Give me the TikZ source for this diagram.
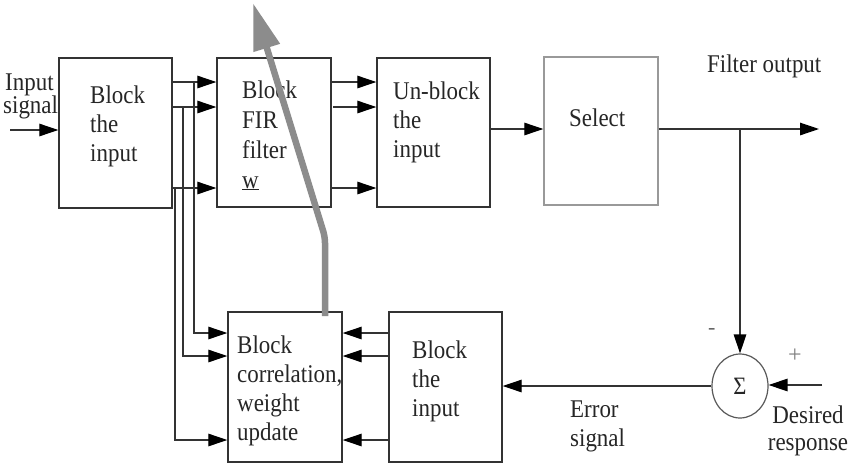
\documentclass[tikz,border=0pt]{standalone}
\usepackage{fontspec}
\setmainfont{Liberation Serif}
\newfontfamily\serifx[FakeStretch=0.9]{Liberation Serif}
\usetikzlibrary{arrows.meta,shapes.geometric}

\newcommand\lines[1]{\begin{tabular}[t]{@{}l@{}}#1\end{tabular}}

\begin{document}
\begin{tikzpicture}[x=1pt,y=-1pt,
  blk/.style={draw=black!80, line width=1.4pt, inner sep=0pt},
  ln/.style={draw=black!80, line width=1.3pt},
  arr/.style={ln, -{Triangle[length=19pt,width=12.5pt,color=black]}},
  lbl/.style={inner sep=0pt, anchor=base west, text=black!85,
    font={\serifx\fontsize{25.5}{29}\selectfont}},
  lblw/.style={lbl, font={\serifx\fontsize{25.5}{30}\selectfont}},
  feedback/.style={draw=black!45, line width=6.5pt, rounded corners=6pt,
    -{Triangle[length=47pt,width=26pt]}}]

\useasboundingbox[fill=white] (0,0) rectangle (851,464);

% processing blocks
\node[blk, minimum width=113pt, minimum height=150pt] (b1) at (115.5,133) {};
\node[blk, minimum width=114pt, minimum height=149pt] (b2) at (274,132.5) {};
\node[blk, minimum width=113pt, minimum height=149pt] (b3) at (433.5,132.5) {};
\node[blk, draw=black!40, minimum width=114pt, minimum height=148pt] (sel) at (601,131) {};
\node[blk, minimum width=114pt, minimum height=150pt] (b5) at (285,387) {};
\node[blk, minimum width=113pt, minimum height=150pt] (b4) at (445.5,387) {};
\node[ellipse, draw=black!65, line width=1.2pt, minimum width=56pt,
  minimum height=64pt, inner sep=0pt, text=black!85,
  font={\serifx\fontsize{25}{27}\selectfont}] (sig) at (740,386) {Σ};

% block texts
\node[lbl] (t1) at (90,103) {\lines{Block\\the\\input}};
\node[lblw] (t2) at (242,98) {\lines{Block\\FIR\\filter\\\underline{w}}};
\node[lbl] (t3) at (393,99) {\lines{Un-block\\the\\input}};
\node[lbl] (t4) at (569,126) {Select};
\node[lbl] (t5) at (237,353) {\lines{Block\\correlation,\\weight\\update}};
\node[lbl] (t6) at (412,358) {\lines{Block\\the\\input}};

% signal labels
\node[lbl] (in1) at (5,90) {Input};
\node[lbl] (in2) at (3,113) {signal};
\node[lbl] (fo) at (707,72) {Filter output};
\node[lbl] (es) at (570,417) {\lines{Error\\signal}};
\node[lbl, anchor=base] (dr1) at (808,423) {Desired};
\node[lbl, anchor=base] (dr2) at (808,450) {response};
\node[lbl, text=black!60, font={\fontsize{22}{24}\selectfont}] (mn) at (708,334) {-};
\node[lbl, text=black!50, font={\fontsize{24}{26}\selectfont}] (pl) at (788,362) {+};

% rows of the block signals
\coordinate (r1) at (0,82);
\coordinate (r2) at (0,107);
\coordinate (r3) at (0,188);
\coordinate (q1) at (0,333);
\coordinate (q2) at (0,356);
\coordinate (q3) at (0,440);
\coordinate (o) at (0,129);

% input
\coordinate (in) at (10,130);
\draw[arr] (in) -- (b1.west |- in);

% block the input -> FIR filter
\draw[arr] (b1.east |- r1) -- (b2.west |- r1);
\draw[arr] (b1.east |- r2) -- (b2.west |- r2);
\draw[arr] (b1.east |- r3) -- (b2.west |- r3);

% taps down to the correlation block
\coordinate (k1) at (194,82);
\coordinate (k2) at (183,107);
\coordinate (k3) at (175,188);
\draw[arr] (k1) |- (b5.west |- q1);
\draw[arr] (k2) |- (b5.west |- q2);
\draw[arr] (k3) |- (b5.west |- q3);

% FIR filter -> un-block
\coordinate (m2) at (333,107);
\draw[arr] (b2.east |- r1) -- (b3.west |- r1);
\draw[arr] (m2) -- (b3.west |- r2);
\draw[arr] (b2.east |- r3) -- (b3.west |- r3);

% un-block -> select -> output
\draw[arr] (b3.east |- o) -- (sel.west |- o);
\coordinate (out) at (819,129);
\coordinate (j) at (740,129);
\draw[arr] (sel.east |- o) -- (out);
\draw[arr] (j) -- (sig.north);

% desired response and error signal
\coordinate (d) at (822,385);
\draw[arr] (d) -- (sig.east |- d);
\draw[arr] (sig.west) -- (b4.east |- sig.west);

% error blocks -> correlation
\draw[arr] (b4.west |- q1) -- (b5.east |- q1);
\draw[arr] (b4.west |- q2) -- (b5.east |- q2);
\draw[arr] (b4.west |- q3) -- (b5.east |- q3);

% weight update fed back to the filter
\coordinate (g0) at (325,316);
\coordinate (g1) at (325,237);
\coordinate (g2) at (253,3);
\draw[feedback] (g0) -- (g1) -- (g2);

\end{tikzpicture}
\end{document}
